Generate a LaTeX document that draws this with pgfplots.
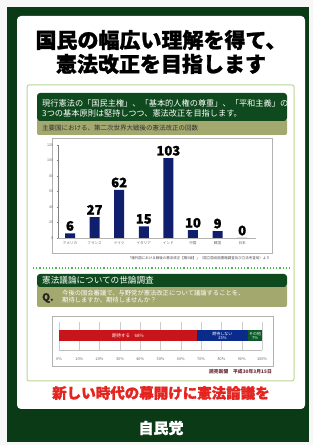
\documentclass[border=0pt]{standalone}
\usepackage{pgfplots}
\pgfplotsset{compat=1.18}
\usepackage{fontspec}
\setmainfont{Noto Sans CJK JP}
\newfontfamily\heavy{Noto Sans CJK JP}[BoldFeatures={FakeBold=1.2}]
\definecolor{framegreen}{HTML}{0B3A17}
\definecolor{hdrgreen}{HTML}{0F4A1E}
\definecolor{olive}{HTML}{A2A86E}
\definecolor{lightgreen}{HTML}{B9D795}
\definecolor{navy}{HTML}{0F1F6E}
\definecolor{barred}{HTML}{C8141A}
\definecolor{barblue}{HTML}{0A2A8C}
\definecolor{bargreen}{HTML}{0B5A2A}
\definecolor{slogan}{HTML}{E52420}
\definecolor{maroon}{HTML}{6A2A35}
\begin{document}
\begin{tikzpicture}[x=1pt,y=1pt]
\fill[gray!6] (0,0) rectangle (313,445);
\fill[framegreen] (7,3) rectangle (309,438);
\fill[white, rounded corners=4] (17,36) rectangle (305,429);
\draw[lightgreen, line width=1, rounded corners=2] (27,64) rectangle (294,360);
% title
\node at (161,405) {\fontsize{21}{21}\selectfont\heavy\bfseries 国民の幅広い理解を得て、};
\node at (161,381) {\fontsize{21}{21}\selectfont\heavy\bfseries 憲法改正を目指します};
% header 1
\fill[olive, rounded corners=2] (37,310) rectangle (287,326);
\fill[hdrgreen, rounded corners=3] (37,324) rectangle (287,352);
\node[anchor=west, white, inner sep=0] at (42,342) {\fontsize{8.2}{8.2}\selectfont 現行憲法の「国民主権」、「基本的人権の尊重」、「平和主義」の};
\node[anchor=west, white, inner sep=0] at (42,332) {\fontsize{8.2}{8.2}\selectfont 3つの基本原則は堅持しつつ、憲法改正を目指します。};
\node[anchor=west, black!80, inner sep=0] at (42,317) {\fontsize{6.5}{6.5}\selectfont 主要国における、第二次世界大戦後の憲法改正の回数};
% chart box 1
\draw[gray!60, fill=white] (52,192) rectangle (272,307);
\begin{axis}[
  at={(70pt,207pt)}, anchor=origin,
  scale only axis, width=198pt, height=93pt,
  ybar, bar width=10pt,
  xmin=-0.5, xmax=7.55, ymin=0, ymax=120,
  ytick={0,20,...,120},
  xtick=data,
  xticklabels={アメリカ,フランス,ドイツ,イタリア,インド,中国,韓国,日本},
  axis lines=left, axis line style={gray, -},
  x axis line style={draw=gray!60},
  tick style={gray, major tick length=2pt},
  xtick style={draw=none},
  /pgf/number format/assume math mode=true,
  tick label style={font=\fontsize{3.6}{3.6}\selectfont, text=gray!80!black},
  x tick label style={yshift=1pt},
  nodes near coords,
  every node near coord/.append style={font=\fontsize{13}{13}\selectfont\heavy\bfseries, text=black, yshift=-1pt},
  clip=false,
]
\addplot[fill=navy, draw=none] coordinates {(0,6) (1,27) (2,62) (3,15) (4,103) (5,10) (6,9) (7,0)};
\end{axis}
\node[anchor=east, inner sep=0, black!70] at (270,187) {\fontsize{3.5}{3.5}\selectfont 「諸外国における戦後の憲法改正【第5版】」（国立国会図書館調査及び立法考査局）より};
\draw[green!45!gray, line width=1.2, dotted] (33,177) -- (290,177);
% header 2
\fill[olive, rounded corners=2] (37,138) rectangle (287,160);
\fill[hdrgreen, rounded corners=3] (37,158) rectangle (287,171);
\node[anchor=west, white, inner sep=0] at (42,164.5) {\fontsize{8.6}{8.6}\selectfont 憲法議論についての世論調査};
\node[anchor=west, inner sep=0, black!85] at (42,147) {\fontsize{10}{10}\selectfont\heavy\bfseries Q.};
\node[anchor=west, white, inner sep=0] at (62,151.5) {\fontsize{6.3}{6.3}\selectfont 今後の国会審議で、与野党が憲法改正について議論することを、};
\node[anchor=west, white, inner sep=0] at (62,144.5) {\fontsize{6.3}{6.3}\selectfont 期待しますか、期待しませんか？};
% chart box 2
\draw[gray!60, fill=white] (52,79) rectangle (273,129);
\begin{axis}[
  at={(59pt,95pt)}, anchor=south west,
  scale only axis, width=203pt, height=28pt,
  xbar stacked, bar width=11pt,
  xmin=0, xmax=100, ymin=-1, ymax=1,
  xtick={0,10,...,100},
  xticklabel={\pgfmathprintnumber{\tick}\%},
  /pgf/number format/assume math mode=true,
  axis x line=bottom, axis y line=none,
  axis line style={gray!50, -},
  x tick style={draw=none},
  xmajorgrids, grid style={gray!40},
  tick label style={font=\fontsize{3.8}{3.8}\selectfont, text=gray!80!black},
  x tick label style={yshift=-2pt},
  clip=false,
]
\addplot[fill=barred, draw=none] coordinates {(68,0)};
\addplot[fill=barblue, draw=none] coordinates {(25,0)};
\addplot[fill=bargreen, draw=none] coordinates {(7,0)};
\end{axis}
\node[white, inner sep=0, font=\fontsize{4.5}{4.5}\selectfont] at (128,109) {期待する　68\%};
\node[white, inner sep=0, align=center, font=\fontsize{4}{4.6}\selectfont] at (222.4,109) {期待しない\\25\%};
\node[white, inner sep=0, align=center, font=\fontsize{4}{4.6}\selectfont] at (255,109) {その他\\7\%};
\node[anchor=east, inner sep=0, maroon] at (272,73) {\fontsize{4.8}{4.8}\selectfont\bfseries 読売新聞　平成30年3月15日};
% slogan
\node[slogan] at (161,52) {\fontsize{14.5}{14.5}\selectfont\heavy\bfseries 新しい時代の幕開けに憲法論議を};
% footer
\node[white] at (161,17) {\fontsize{15}{15}\selectfont\heavy\bfseries 自民党};
\end{tikzpicture}
\end{document}
